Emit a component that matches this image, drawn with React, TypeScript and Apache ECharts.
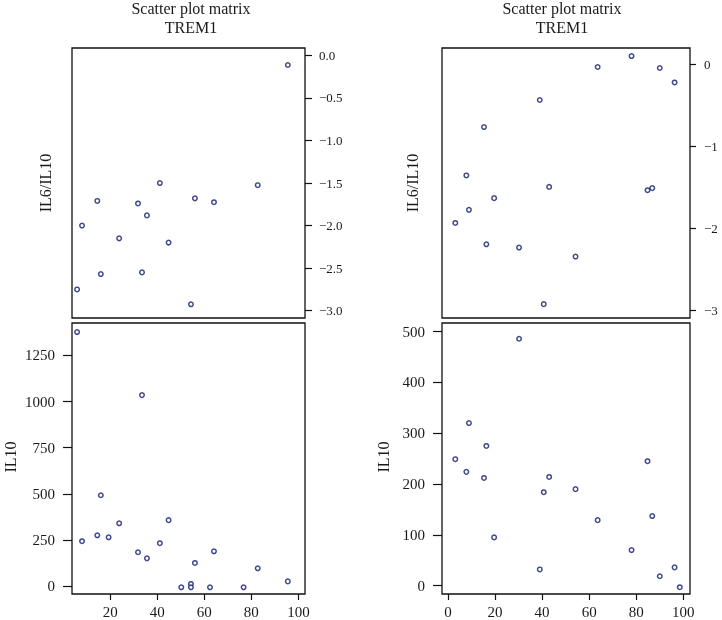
import React, { useEffect, useRef } from "react";
import * as echarts from "echarts";

// Left column: TREM1 shared x, IL6/IL10 (top) and IL10 (bottom)
const leftTrem1 = [5.9, 33.5, 16.0, 23.8, 44.8, 8.0, 14.5, 19.3, 31.8, 35.6, 41.1, 56.0, 64.1, 50.2, 54.3, 54.3, 62.4, 76.7, 82.7, 95.5];
const leftIL10 = [1377, 1035, 492, 340, 357, 243, 275, 264, 183, 150, 232, 125, 188, -7, 11, -7, -7, -7, 96, 25];
const leftRatio: (number | null)[] = [-2.75, -2.55, -2.57, -2.15, -2.2, -2.0, -1.71, null, -1.74, -1.88, -1.5, -1.68, -1.725, null, -2.925, null, null, null, -1.525, -0.113];

// Right column
const rightTrem1 = [30.2, 8.9, 16.3, 3.1, 7.8, 15.3, 43.0, 40.7, 54.2, 84.8, 63.6, 86.8, 19.6, 78.0, 39.0, 96.3, 90.0, 98.5];
const rightIL10 = [486, 320, 275, 249, 224, 212, 214, 184, 190, 245, 129, 137, 95, 70, 32, 36, 18.5, -3];
const rightRatio: (number | null)[] = [-2.23, -1.77, -2.19, -1.93, -1.35, -0.76, -1.49, -2.92, -2.34, -1.53, -0.028, -1.505, -1.627, 0.106, -0.43, -0.216, -0.04, null];

// Tick values
const leftXTicks = [20, 40, 60, 80, 100];
const rightXTicks = [0, 20, 40, 60, 80, 100];
const tlYTicks = [0, -0.5, -1, -1.5, -2, -2.5, -3];
const blYTicks = [0, 250, 500, 750, 1000, 1250];
const trYTicks = [0, -1, -2, -3];
const brYTicks = [0, 100, 200, 300, 400, 500];

const titleLine1 = "Scatter plot matrix";
const titleLine2 = "TREM1";
const ratioName = "IL6/IL10";
const il10Name = "IL10";

const FONT = "'Liberation Serif', 'DejaVu Serif', serif";
const TEXT = "#1a1a1a";
const LINE = "#111";
const POINT = "#0f1c72";

const pairs = (xs: number[], ys: (number | null)[]) =>
  xs.map((x, i) => [x, ys[i]]).filter((p) => p[1] !== null && p[1] !== undefined);

const minus = (s: string) => s.replace("-", "\u2212");

export default function App() {
  const ref = useRef<HTMLDivElement>(null);
  useEffect(() => {
    if (!ref.current) return;
    const chart = echarts.init(ref.current, undefined, { renderer: "svg" });

    const gridBase = { show: true, borderColor: LINE, borderWidth: 1.3, backgroundColor: "transparent", containLabel: false };
    const grids = [
      { ...gridBase, left: 72, top: 48, width: 233, height: 270 },
      { ...gridBase, left: 72, top: 323, width: 233, height: 271 },
      { ...gridBase, left: 442, top: 48, width: 248, height: 270 },
      { ...gridBase, left: 442, top: 323, width: 248, height: 271 },
    ];

    const mkX = (gridIndex: number, min: number, max: number, vals: number[], show: boolean) => ({
      type: "value",
      gridIndex,
      min,
      max,
      position: "bottom",
      axisLine: { show: false, onZero: false },
      splitLine: { show: false },
      axisTick: { show, length: 6, customValues: vals, lineStyle: { color: LINE, width: 1.2 } },
      axisLabel: { show, customValues: vals, margin: 10, fontSize: 15, fontFamily: FONT, color: TEXT },
    });

    const mkY = (
      gridIndex: number,
      min: number,
      max: number,
      vals: number[],
      position: string,
      fontSize: number,
      margin: number,
      tickLen: number,
      fmt: (v: number) => string
    ) => ({
      type: "value",
      gridIndex,
      min,
      max,
      position,
      axisLine: { show: false, onZero: false },
      splitLine: { show: false },
      axisTick: { show: true, length: tickLen, customValues: vals, lineStyle: { color: LINE, width: 1.2 } },
      axisLabel: {
        show: true,
        customValues: vals,
        margin,
        fontSize,
        fontFamily: FONT,
        color: TEXT,
        formatter: fmt,
      },
    });

    const scatter = (idx: number, data: any[]) => ({
      type: "scatter",
      xAxisIndex: idx,
      yAxisIndex: idx,
      data,
      symbol: "circle",
      symbolSize: 4.5,
      itemStyle: { color: "#fff", borderColor: POINT, borderWidth: 1.5 },
    });

    const vText = (x: number, y: number, text: string) => ({
      type: "text",
      x,
      y,
      rotation: Math.PI / 2,
      style: { text, fontSize: 16, fontFamily: FONT, fill: TEXT, align: "center", verticalAlign: "middle" },
    });
    const hText = (x: number, y: number, text: string) => ({
      type: "text",
      x,
      y,
      style: { text, fontSize: 16, fontFamily: FONT, fill: TEXT, align: "center", verticalAlign: "middle" },
    });

    chart.setOption({
      animation: false,
      grid: grids,
      xAxis: [
        mkX(0, 3.74, 102.8, leftXTicks, false),
        mkX(1, 3.74, 102.8, leftXTicks, true),
        mkX(2, -2.55, 102.85, rightXTicks, false),
        mkX(3, -2.55, 102.85, rightXTicks, true),
      ],
      yAxis: [
        mkY(0, -3.086, 0.087, tlYTicks, "right", 13, 14, 7, (v) => minus(v.toFixed(1))),
        mkY(1, -43.4, 1426, blYTicks, "left", 15, 17, 9, (v) => minus(String(v))),
        mkY(2, -3.089, 0.204, trYTicks, "right", 13, 14, 6, (v) => minus(String(Math.round(v)))),
        mkY(3, -16.4, 517, brYTicks, "left", 15, 17, 9, (v) => minus(String(v))),
      ],
      series: [
        scatter(0, pairs(leftTrem1, leftRatio)),
        scatter(1, pairs(leftTrem1, leftIL10)),
        scatter(2, pairs(rightTrem1, rightRatio)),
        scatter(3, pairs(rightTrem1, rightIL10)),
      ],
      graphic: [
        hText(191, 8, titleLine1),
        hText(191, 27, titleLine2),
        hText(562, 8, titleLine1),
        hText(562, 27, titleLine2),
        vText(45, 183, ratioName),
        vText(10, 457, il10Name),
        vText(412, 183, ratioName),
        vText(383, 457, il10Name),
      ],
    });
    return () => chart.dispose();
  }, []);
  return <div ref={ref} style={{ position: "fixed", left: 0, top: 0, width: 722, height: 620 }} />;
}
